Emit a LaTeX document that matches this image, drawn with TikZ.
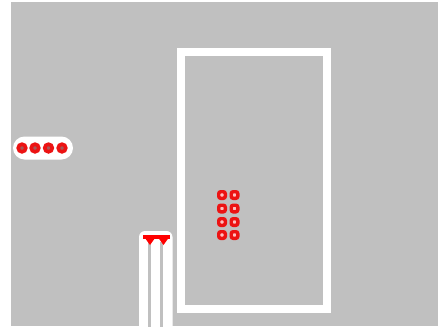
\documentclass[tikz,border=0pt]{standalone}
\usepackage{tikz}

\begin{document}
\begin{tikzpicture}[
    x=1pt, y=-1pt,
    % Define pad styles
    ringpad/.style={draw=red!85!gray, line width=3.6pt, fill=red!30!gray},
    squarepad/.style={draw=red!85!gray, line width=3.4pt, fill=white!75!red},
    halo/.style={fill=white, draw=none}
]

\definecolor{board}{RGB}{192,192,192}

% Fix margins
\useasboundingbox (0,0) rectangle (438,327);
\fill[white] (0,0) rectangle (438,327);

% Board
\fill[board] (11,2) rectangle (438,326);

% Outline of the part
\draw[white, line width=8pt] (181,52) rectangle (326.5,309);

% Row of pads on the left
\fill[halo, rounded corners=11.5pt] (13,136.5) rectangle (73,159.5);
\foreach \x in {22, 35, 48.5, 62} {
    \draw[ringpad] (\x,148) circle (3.8);
}

% Double column of pads inside the outline
\foreach \y in {195, 208.5, 222, 235} {
    \foreach \x in {222, 234.5} {
        \draw[squarepad, rounded corners=2pt] (\x-3.3,\y-3.3) rectangle (\x+3.3,\y+3.3);
    }
}

% Leads at the bottom
\fill[halo, rounded corners=6pt] (139,231) rectangle (172.5,333);
\foreach \x in {149.5, 161.5} {
    \draw[board, line width=2.5pt] (\x,242) -- (\x,327);
}
\fill[red] (143,234.5) rectangle (170,238.5);
\foreach \x in {150, 163.5} {
    \fill[red] (\x-5,238) -- (\x+5,238) -- (\x,245) -- cycle;
}

\end{tikzpicture}
\end{document}
